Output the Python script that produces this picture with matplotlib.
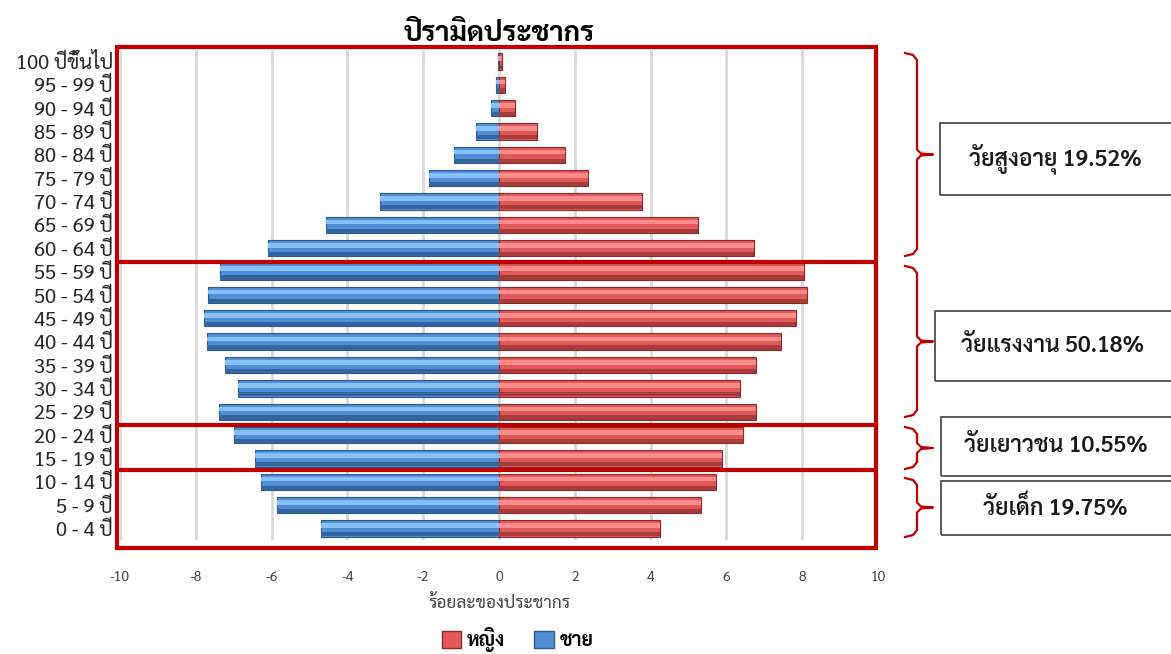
import matplotlib
matplotlib.use("Agg")
import matplotlib.pyplot as plt
from matplotlib import font_manager
from matplotlib.patches import Patch, Rectangle
from matplotlib.lines import Line2D
import numpy as np

# pick a Thai capable font that also has a bold face
fonts = font_manager.fontManager.ttflist
thai = "DejaVu Sans"
for n in ["Noto Sans Thai", "Sarabun", "IBM Plex Sans Thai", "Bai Jamjuree"]:
    if any(f.name == n and f.weight in (700, "bold") for f in fonts):
        thai = n
        break
plt.rcParams['font.family'] = [thai, 'DejaVu Sans']
plt.rcParams['axes.unicode_minus'] = False

age_groups = ["0 - 4 ปี", "5 - 9 ปี", "10 - 14 ปี", "15 - 19 ปี", "20 - 24 ปี",
              "25 - 29 ปี", "30 - 34 ปี", "35 - 39 ปี", "40 - 44 ปี", "45 - 49 ปี",
              "50 - 54 ปี", "55 - 59 ปี", "60 - 64 ปี", "65 - 69 ปี", "70 - 74 ปี",
              "75 - 79 ปี", "80 - 84 ปี", "85 - 89 ปี", "90 - 94 ปี", "95 - 99 ปี",
              "100 ปีขึ้นไป"]
# percent of population (male shown negative)
male = [-4.69, -5.86, -6.28, -6.44, -6.99, -7.39, -6.88, -7.24, -7.71, -7.78,
        -7.68, -7.37, -6.10, -4.56, -3.13, -1.85, -1.19, -0.61, -0.21, -0.08, -0.03]
female = [4.26, 5.32, 5.72, 5.88, 6.43, 6.77, 6.35, 6.77, 7.43, 7.83,
          8.12, 8.04, 6.72, 5.24, 3.76, 2.36, 1.75, 1.00, 0.42, 0.15, 0.07]
x_ticks = [-10, -8, -6, -4, -2, 0, 2, 4, 6, 8, 10]
groups = ["วัยสูงอายุ 19.52%", "วัยแรงงาน 50.18%", "วัยเยาวชน 10.55%", "วัยเด็ก 19.75%"]

fig = plt.figure(figsize=(11.71, 6.54), dpi=100)
ax = fig.add_axes([0.1025, 0.174, 0.6473, 0.750])

y = np.arange(len(age_groups))
h = 0.7
# 3d-ish bars: base, highlight band, dark band
ax.barh(y, male, height=h, color="#4f8fd6", edgecolor="#2b5a90", linewidth=0.8, zorder=3)
ax.barh(y + 0.12, male, height=0.2, color="#86c0f6", linewidth=0, zorder=4)
ax.barh(y - 0.25, male, height=0.18, color="#35659f", linewidth=0, zorder=4)
ax.barh(y, female, height=h, color="#e05a5a", edgecolor="#8f2a2a", linewidth=0.8, zorder=3)
ax.barh(y + 0.12, female, height=0.2, color="#ff8c8c", linewidth=0, zorder=4)
ax.barh(y - 0.25, female, height=0.18, color="#a83c3c", linewidth=0, zorder=4)

ax.set_xlim(-10, 10)
ax.set_ylim(-0.5, 20.5)
ax.set_xticks(x_ticks)
ax.set_xticklabels([str(v) for v in x_ticks], fontsize=10, color="#404040")
ax.set_yticks(y)
ax.set_yticklabels(age_groups, fontsize=14.5, color="#262626")
ax.tick_params(length=0)
ax.tick_params(axis="x", pad=22)
ax.tick_params(axis="y", pad=5)
for s in ax.spines.values():
    s.set_visible(False)
ax.grid(True, axis="x", color="#d9d9d9", linewidth=2, zorder=0)
ax.set_axisbelow(True)
ax.set_xlabel("ร้อยละของประชากร", fontsize=12.5, color="#404040", labelpad=8)
ax.set_title("ปิรามิดประชากร", fontsize=20, fontweight="bold", pad=6)

# red group frames
red = "#c00000"
ax.add_patch(Rectangle((-10.08, -0.82), 20.02, 21.42, fill=False, edgecolor=red,
                       linewidth=3, clip_on=False, zorder=6))
for yy in [11.4, 4.45, 2.5]:
    ax.plot([-10.08, 9.94], [yy, yy], color=red, linewidth=3, clip_on=False, zorder=6)

legend_items = [Patch(facecolor="#e05a5a", edgecolor="#8f2a2a", label="หญิง"),
                Patch(facecolor="#4f8fd6", edgecolor="#2b5a90", label="ชาย")]
fig.legend(handles=legend_items, loc="center", bbox_to_anchor=(0.442, 0.022), ncol=2,
           frameon=False, prop={"weight": "bold", "size": 14}, handlelength=1.0,
           handleheight=1.0, columnspacing=1.5, handletextpad=0.3)

# braces and labels on the right (pixel layout)
W, H = 1171.0, 654.0

def px(x, yy):
    return x / W, 1 - yy / H

def brace(y0, y1):
    mid = (y0 + y1) / 2
    pts = [(905, y0), (913, y0 + 2), (917, y0 + 7), (917, mid - 5), (921, mid - 1),
           (933, mid), (921, mid + 1), (917, mid + 5), (917, y1 - 7), (913, y1 - 2),
           (905, y1)]
    xs = [px(a, b)[0] for a, b in pts]
    ys = [px(a, b)[1] for a, b in pts]
    fig.add_artist(Line2D(xs, ys, color=red, linewidth=1.6))

def label_box(x0, y0, y1, text):
    x, yb = px(x0, y1)
    fig.add_artist(Rectangle((x, yb), (1175 - x0) / W, (y1 - y0) / H, fill=False,
                             edgecolor="#404040", linewidth=1.2, transform=fig.transFigure))
    fig.text((x0 + 1175) / 2 / W - 0.002, px(0, (y0 + y1) / 2)[1], text, ha="center",
             va="center", fontsize=16.5, fontweight="semibold", color="#1a1a1a")

brace(53, 256)
brace(266, 417)
brace(427, 469)
brace(478, 537)
label_box(940, 123, 195, groups[0])
label_box(935, 311, 381, groups[1])
label_box(941, 417, 476, groups[2])
label_box(941, 481, 535, groups[3])

fig.savefig("out.png")
